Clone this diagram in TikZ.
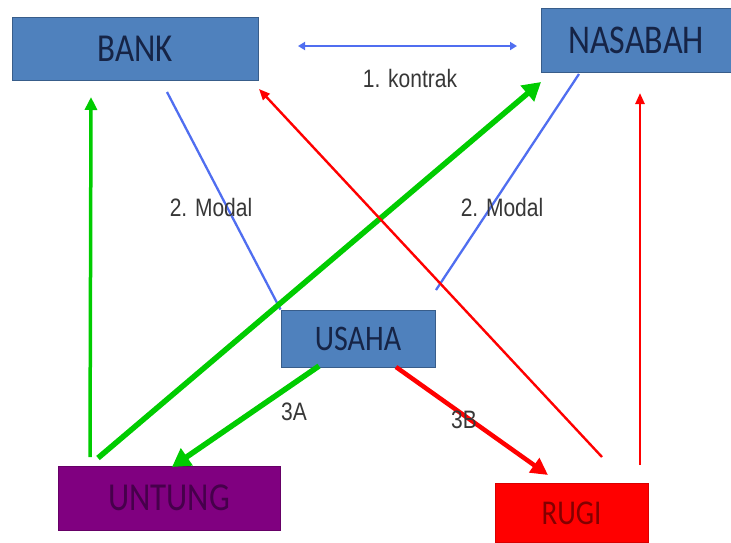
\documentclass[tikz,border=0pt]{standalone}
\usepackage{fontspec}
\usepackage{graphicx}
\setmainfont{Carlito}
\newfontfamily\arialf{Liberation Sans}
\usetikzlibrary{arrows.meta}
\definecolor{boxblue}{RGB}{79,129,189}
\definecolor{boxblueedge}{RGB}{56,93,138}
\definecolor{navytext}{RGB}{22,36,70}
\definecolor{purplebox}{RGB}{128,0,128}
\definecolor{purpletext}{RGB}{70,0,75}
\definecolor{redtext}{RGB}{130,0,0}
\definecolor{linkblue}{RGB}{80,110,240}
\definecolor{linkgreen}{RGB}{0,204,0}
\definecolor{linkred}{RGB}{255,0,0}
\definecolor{labelgray}{RGB}{55,55,55}
\tikzset{
  box/.style={draw=boxblueedge, line width=1pt, fill=boxblue, text=navytext, inner sep=0pt, anchor=center},
  lbl/.style={text=labelgray, font=\arialf\fontsize{21}{24}\selectfont, inner sep=0pt},
  thinblue/.style={draw=linkblue, line width=2.3pt},
  thingreen/.style={draw=linkgreen, line width=3.5pt, -{Triangle[length=13pt,width=12pt]}},
  thickgreen/.style={draw=linkgreen, line width=5.5pt, -{Triangle[length=18pt,width=20pt]}},
  thinred/.style={draw=linkred, line width=2.4pt, -{Triangle[length=11pt,width=9pt]}},
  thickred/.style={draw=linkred, line width=4.5pt, -{Triangle[length=17pt,width=17pt]}},
}
\newcommand{\bt}[2]{\fontsize{#1}{#1}\selectfont\scalebox{1}[1.2]{#2}}
\begin{document}
\begin{tikzpicture}[x=1pt,y=-1pt]
\useasboundingbox (0,0) rectangle (731,542);
% boxes
\node[box, minimum width=246pt, minimum height=63pt] (BANK) at (135,49) {\bt{33}{BANK}};
\node[box, minimum width=190pt, minimum height=64pt] (NASABAH) at (636,40) {\bt{34}{NASABAH}};
\node[box, minimum width=154pt, minimum height=57pt] (USAHA) at (358,338.5) {\bt{30}{USAHA}};
\node[box, draw=purplebox!80!black, fill=purplebox, text=purpletext, minimum width=222pt, minimum height=64pt] (UNTUNG) at (169,498) {\bt{33}{UNTUNG}};
\node[box, draw=linkred!85!black, fill=linkred, text=redtext, minimum width=153pt, minimum height=59pt] (RUGI) at (571.5,513) {\bt{29}{RUGI}};
% connector end points
\coordinate (kL) at (298,46);
\coordinate (kR) at (517,46);
\coordinate (bankM) at (167,92);
\coordinate (nasM) at (579,74);
\coordinate (usaNE) at (436,290);
\coordinate (untA) at (90,457);
\coordinate (bankA) at (91,97);
\coordinate (untB) at (98,458);
\coordinate (nasB) at (541,82);
\coordinate (rugA) at (602,457);
\coordinate (bankR) at (259,89);
\coordinate (rugB) at (640,465);
\coordinate (nasR) at (640,93);
\coordinate (usaL) at (319,366);
\coordinate (untT) at (172,467);
\coordinate (usaR) at (396,367);
\coordinate (rugT) at (548,475);
% connectors
\draw[thinblue, {Triangle[length=7pt,width=8pt]}-{Triangle[length=7pt,width=8pt]}] (kL) -- (kR);
\draw[thinblue] (bankM) -- (USAHA.north west);
\draw[thinblue] (nasM) -- (usaNE);
\draw[thingreen] (untA) -- (bankA);
\draw[thickgreen] (untB) -- (nasB);
\draw[thinred] (rugA) -- (bankR);
\draw[thinred] (rugB) -- (nasR);
\draw[thickgreen] (usaL) -- (untT);
\draw[thickred] (usaR) -- (rugT);
% labels
\node[lbl] (l1) at (410,78) {\scalebox{1}[1.2]{1. kontrak}};
\node[lbl] (l2a) at (211,207) {\scalebox{1}[1.2]{2. Modal}};
\node[lbl] (l2b) at (502,207) {\scalebox{1}[1.2]{2. Modal}};
\node[lbl] (l3a) at (294,412) {\scalebox{1}[1.2]{3A}};
\node[lbl] (l3b) at (464,420) {\scalebox{1}[1.2]{3B}};
\end{tikzpicture}
\end{document}
